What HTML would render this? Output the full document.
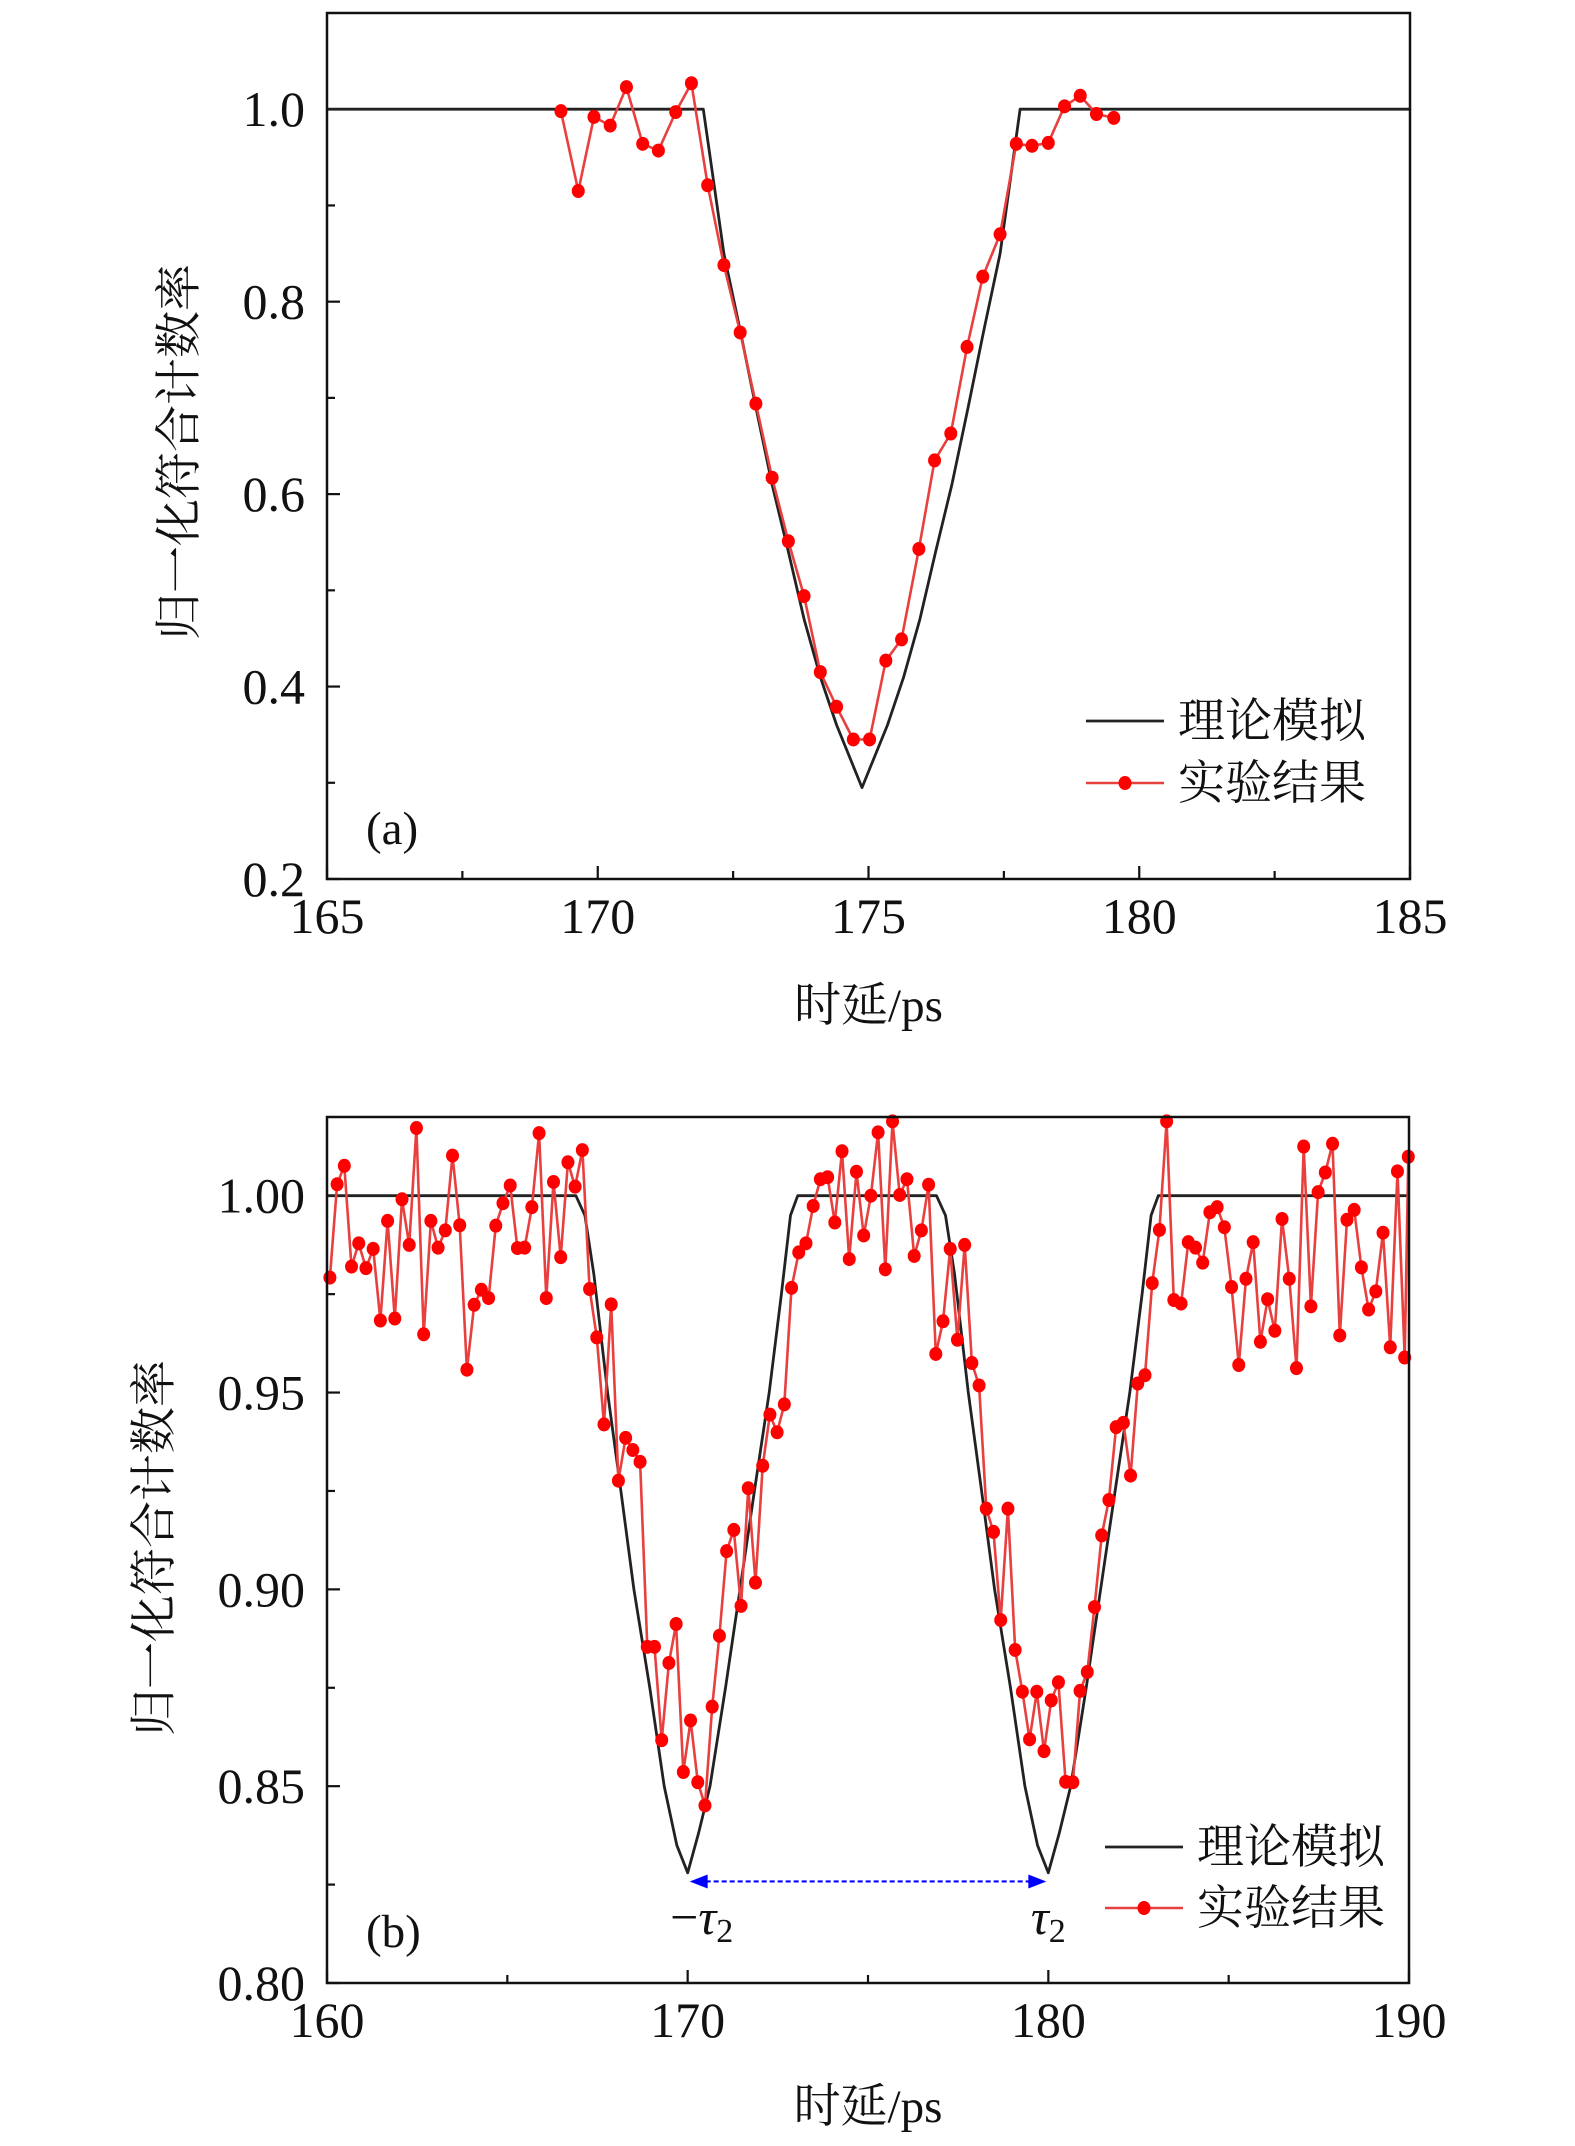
<!DOCTYPE html>
<html><head><meta charset="utf-8">
<style>
html,body{margin:0;padding:0;background:#fff;}
svg{display:block;}
.tk{font-family:"Liberation Serif","DejaVu Serif",serif;font-size:50px;fill:#111;}
.cj{font-family:"Liberation Serif","Noto Serif CJK SC",serif;font-size:47px;fill:#111;}
</style></head>
<body>
<svg id="fig" width="1575" height="2146" viewBox="0 0 1575 2146" xmlns="http://www.w3.org/2000/svg"></svg>
<script>
// ---------- Panel (a) data ----------
const aExpX = [169.32,169.64,169.93,170.23,170.53,170.83,171.12,171.44,171.73,172.03,172.33,172.63,172.92,173.22,173.52,173.81,174.11,174.41,174.72,175.02,175.32,175.61,175.93,176.22,176.52,176.82,177.11,177.43,177.73,178.02,178.32,178.62,178.91,179.21,179.53];
const aExpY = [0.998,0.915,0.992,0.983,1.023,0.964,0.957,0.997,1.027,0.921,0.838,0.768,0.694,0.617,0.551,0.494,0.415,0.379,0.345,0.345,0.427,0.449,0.543,0.635,0.663,0.753,0.826,0.870,0.964,0.962,0.965,1.003,1.014,0.995,0.991];
const aThX = [165,171.95,172.33,172.63,172.92,173.22,173.52,173.81,174.11,174.41,174.88,175.35,175.65,175.95,176.24,176.54,176.84,177.13,177.43,177.8,185];
const aThY = [1,1,0.85,0.77,0.69,0.61,0.54,0.47,0.41,0.36,0.295,0.36,0.41,0.47,0.54,0.61,0.69,0.77,0.85,1,1];
const aXTicks = [165,170,175,180,185];
const aYTicks = [0.2,0.4,0.6,0.8,1.0];
const aYLabels = ["0.2","0.4","0.6","0.8","1.0"];

// ---------- Panel (b) data ----------
const bExpX = [160.08,160.28,160.48,160.68,160.88,161.08,161.28,161.48,161.68,161.88,162.08,162.28,162.48,162.68,162.88,163.08,163.28,163.48,163.68,163.88,164.08,164.28,164.48,164.68,164.88,165.08,165.28,165.48,165.68,165.88,166.08,166.28,166.48,166.68,166.88,167.08,167.28,167.48,167.68,167.88,168.08,168.28,168.48,168.68,168.88,169.08,169.28,169.48,169.68,169.88,170.08,170.28,170.48,170.68,170.88,171.08,171.28,171.48,171.68,171.88,172.08,172.28,172.48,172.68,172.88,173.08,173.28,173.48,173.68,173.88,174.08,174.28,174.48,174.68,174.88,175.08,175.28,175.48,175.68,175.88,176.08,176.28,176.48,176.68,176.88,177.08,177.28,177.48,177.68,177.88,178.08,178.28,178.48,178.68,178.88,179.08,179.28,179.48,179.68,179.88,180.08,180.28,180.48,180.68,180.88,181.08,181.28,181.48,181.68,181.88,182.08,182.28,182.48,182.68,182.88,183.08,183.28,183.48,183.68,183.88,184.08,184.28,184.48,184.68,184.88,185.08,185.28,185.48,185.68,185.88,186.08,186.28,186.48,186.68,186.88,187.08,187.28,187.48,187.68,187.88,188.08,188.28,188.48,188.68,188.88,189.08,189.28,189.48,189.68,189.88,189.98];
const bExpY = [0.9792,1.0029,1.0076,0.9820,0.9879,0.9816,0.9865,0.9683,0.9936,0.9688,0.9991,0.9875,1.0172,0.9648,0.9936,0.9868,0.9912,1.0102,0.9925,0.9558,0.9723,0.9761,0.9740,0.9924,0.9981,1.0026,0.9867,0.9868,0.9971,1.0159,0.9740,1.0035,0.9844,1.0085,1.0023,1.0116,0.9763,0.9640,0.9419,0.9724,0.9276,0.9385,0.9354,0.9324,0.8854,0.8854,0.8617,0.8813,0.8912,0.8536,0.8667,0.8510,0.8451,0.8702,0.8882,0.9097,0.9151,0.8958,0.9257,0.9017,0.9314,0.9444,0.9399,0.9470,0.9766,0.9856,0.9879,0.9974,1.0042,1.0047,0.9932,1.0113,0.9839,1.0061,0.9899,1.0000,1.0161,0.9813,1.0189,1.0002,1.0042,0.9847,0.9912,1.0028,0.9598,0.9681,0.9865,0.9634,0.9875,0.9575,0.9518,0.9205,0.9146,0.8922,0.9205,0.8846,0.8740,0.8619,0.8740,0.8589,0.8718,0.8764,0.8511,0.8510,0.8742,0.8790,0.8955,0.9137,0.9227,0.9412,0.9423,0.9289,0.9523,0.9544,0.9778,0.9913,1.0189,0.9735,0.9726,0.9882,0.9868,0.9830,0.9958,0.9971,0.9920,0.9768,0.9570,0.9789,0.9882,0.9629,0.9737,0.9657,0.9941,0.9789,0.9562,1.0125,0.9719,1.0009,1.0059,1.0132,0.9645,0.9939,0.9964,0.9818,0.9711,0.9757,0.9906,0.9615,1.0062,0.9589,1.0099];
const bThX = [160,166.9,167.15,167.4,167.78,168.15,168.51,168.95,169.35,169.7,170.0,170.3,170.62,171.05,171.45,171.85,172.26,172.6,172.85,173.05,176.9,177.15,177.4,177.78,178.15,178.51,178.95,179.35,179.7,180.0,180.3,180.62,181.05,181.45,181.85,182.26,182.6,182.85,183.05,190];
const bThY = [1,1,0.995,0.98,0.95,0.925,0.90,0.875,0.85,0.835,0.828,0.838,0.85,0.875,0.90,0.925,0.95,0.975,0.995,1,1,0.995,0.98,0.95,0.925,0.90,0.875,0.85,0.835,0.828,0.838,0.85,0.875,0.90,0.925,0.95,0.975,0.995,1,1];
const bXTicks = [160,170,180,190];
const bYTicks = [0.80,0.85,0.90,0.95,1.00];
const bYLabels = ["0.80","0.85","0.90","0.95","1.00"];
const bArrowX = [170,180];
const bArrowY = 0.8258;

const NS = "http://www.w3.org/2000/svg";
const svg = document.getElementById('fig');
function el(tag, attrs, parent){
  const e = document.createElementNS(NS, tag);
  for (const k in attrs) e.setAttribute(k, attrs[k]);
  (parent||svg).appendChild(e);
  return e;
}

function panel(cfg){
  const g = el('g', {});
  
  
  const sx = v => cfg.L + (v - cfg.x0) / (cfg.x1 - cfg.x0) * (cfg.R - cfg.L);
  const sy = v => cfg.B - (v - cfg.y0) / (cfg.y1 - cfg.y0) * (cfg.B - cfg.T);

  const tg = el('g', {stroke:'#111','stroke-width':2.2}, g);
  
  
  cfg.xTicks.forEach(v => el('line', {x1:sx(v),x2:sx(v),y1:cfg.B,y2:cfg.B-13}, tg));
  cfg.xMinor.forEach(v => el('line', {x1:sx(v),x2:sx(v),y1:cfg.B,y2:cfg.B-8}, tg));
  cfg.yTicks.forEach(v => el('line', {x1:cfg.L,x2:cfg.L+13,y1:sy(v),y2:sy(v)}, tg));
  cfg.yMinor.forEach(v => el('line', {x1:cfg.L,x2:cfg.L+8,y1:sy(v),y2:sy(v)}, tg));

  cfg.xTicks.forEach(v => {
    const t = el('text', {x:sx(v), y:cfg.xLabY, 'text-anchor':'middle', class:'tk'}, g);
    
    
    t.textContent = String(v);
  });
  cfg.yTicks.forEach((v,i) => {
    const t = el('text', {x:cfg.L-22, y:sy(v)+17, 'text-anchor':'end', class:'tk'}, g);
    
    
    t.textContent = cfg.yLabels[i];
  });

  const tp = cfg.thX.map((x,i) => sx(x).toFixed(1)+','+sy(cfg.thY[i]).toFixed(1)).join(' ');
  const th = el('polyline', {points:tp, fill:'none', stroke:'#222', 'stroke-width':2.8, 'stroke-linejoin':'round'}, g);
  
  

  const ep = cfg.exX.map((x,i) => sx(x).toFixed(1)+','+sy(cfg.exY[i]).toFixed(1)).join(' ');
  const ex = el('polyline', {points:ep, fill:'none', stroke:'#e8403f', 'stroke-width':2.6, 'stroke-linejoin':'round'}, g);
  
  
  cfg.exX.forEach((x,i) => {
    const c = el('ellipse', {cx:sx(x), cy:sy(cfg.exY[i]), rx:6.5, ry:7, fill:'#ff0000'}, g);
    
    
  });

  const fr = el('rect', {x:cfg.L, y:cfg.T, width:cfg.R-cfg.L, height:cfg.B-cfg.T, fill:'none', stroke:'#111', 'stroke-width':2.5}, g);
  
  

  const xt = el('text', {x:(cfg.L+cfg.R)/2, y:cfg.xTitleY, 'text-anchor':'middle', class:'cj'}, g);
  
  
  xt.textContent = '时延/ps';
  const yt = el('text', {x:0, y:0, 'text-anchor':'middle', class:'cj', transform:'translate('+(cfg.yTitleX)+','+cfg.yTitleCY+') rotate(-90)'}, g);
  
  
  yt.textContent = '归一化符合计数率';

  const pl = el('text', {x:cfg.L+39, y:cfg.panelY+15, class:'cj'}, g);
  
  
  pl.textContent = cfg.panelLabel;

  const lg = el('g', {}, g);
  
  
  const l1 = el('line', {x1:cfg.legX, x2:cfg.legX+78, y1:cfg.legY1, y2:cfg.legY1, stroke:'#222','stroke-width':2.8}, lg);
  
  
  const t1 = el('text', {x:cfg.legX+92, y:cfg.legY1+16, class:'cj'}, lg);
  
  
  t1.textContent = '理论模拟';
  const l2 = el('line', {x1:cfg.legX, x2:cfg.legX+78, y1:cfg.legY2, y2:cfg.legY2, stroke:'#e8403f','stroke-width':2.6}, lg);
  
  
  const m2 = el('ellipse', {cx:cfg.legX+39, cy:cfg.legY2, rx:6.5, ry:7, fill:'#ff0000'}, lg);
  
  
  const t2 = el('text', {x:cfg.legX+92, y:cfg.legY2+16, class:'cj'}, lg);
  
  
  t2.textContent = '实验结果';

  return {g, sx, sy};
}

panel({name:'panel-a', L:327, R:1410, T:13, B:879, x0:165, x1:185, y0:0.2, y1:1.1,
  xTicks:aXTicks, xMinor:[167.5,172.5,177.5,182.5], yTicks:aYTicks, yLabels:aYLabels,
  yMinor:[0.3,0.5,0.7,0.9],
  xLabY:933, xTitleY:1021, yTitleX:195, yTitleCY:452,
  thX:aThX, thY:aThY, exX:aExpX, exY:aExpY,
  panelLabel:'(a)', panelY:829, legX:1086, legY1:721, legY2:783});

const pb = panel({name:'panel-b', L:327, R:1409, T:1117, B:1983, x0:160, x1:190, y0:0.80, y1:1.02,
  xTicks:bXTicks, xMinor:[165,175,185], yTicks:bYTicks, yLabels:bYLabels,
  yMinor:[0.825,0.875,0.925,0.975],
  xLabY:2037, xTitleY:2122, yTitleX:170, yTitleCY:1548,
  thX:bThX, thY:bThY, exX:bExpX, exY:bExpY,
  panelLabel:'(b)', panelY:1932, legX:1105, legY1:1847, legY2:1908});

const ay = pb.sy(bArrowY);
const xa = pb.sx(bArrowX[0]), xb = pb.sx(bArrowX[1]);
const ag = el('g', {});


el('line', {x1:xa+18, x2:xb-18, y1:ay, y2:ay, stroke:'#0000ff', 'stroke-width':2.2, 'stroke-dasharray':'5,3'}, ag);
el('polygon', {points:(xa+2)+','+ay+' '+(xa+20)+','+(ay-7)+' '+(xa+20)+','+(ay+7), fill:'#0000ff'}, ag);
el('polygon', {points:(xb-2)+','+ay+' '+(xb-20)+','+(ay-7)+' '+(xb-20)+','+(ay+7), fill:'#0000ff'}, ag);

const tl = el('text', {x:xa+14, y:1934, 'text-anchor':'middle', class:'tk'});


tl.innerHTML = '−<tspan font-style="italic">τ</tspan><tspan font-size="34" dy="8">2</tspan>';
const tr = el('text', {x:xb, y:1934, 'text-anchor':'middle', class:'tk'});


tr.innerHTML = '<tspan font-style="italic">τ</tspan><tspan font-size="34" dy="8">2</tspan>';
</script>
</body></html>
